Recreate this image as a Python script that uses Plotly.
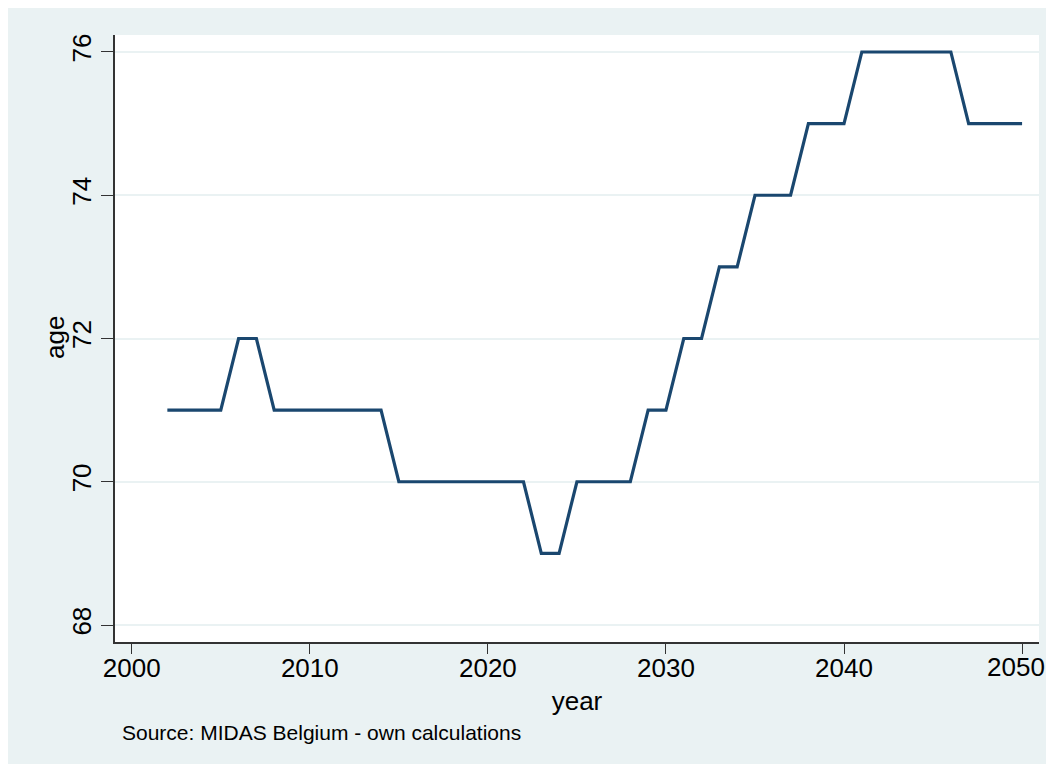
import plotly.graph_objects as go

years = list(range(2002, 2051))
age = [71, 71, 71, 71, 72, 72, 71, 71, 71, 71, 71, 71, 71,
       70, 70, 70, 70, 70, 70, 70, 70, 69, 69,
       70, 70, 70, 70, 71, 71, 72, 72, 73, 73, 74, 74, 74,
       75, 75, 75, 76, 76, 76, 76, 76, 76, 75, 75, 75, 75]
x_ticks = [2000, 2010, 2020, 2030, 2040, 2050]
y_ticks = [68, 70, 72, 74, 76]

OFF = 8  # page body margin
SW, SH = 1054, 772  # screen size
W, H = SW - 2 * OFF, SH - 2 * OFF
L = 115 - OFF
R = W - (1039 - OFF)
T = 35 - OFF
B = H - (642 - OFF)
pw, ph = W - L - R, H - T - B
BG = "#EAF2F3"
FONT = "Liberation Sans, Arial, sans-serif"

fig = go.Figure()
fig.add_trace(go.Scatter(x=years, y=age, mode="lines",
                         line=dict(color="#1A476F", width=3.2), showlegend=False))

def px2paper_x(px):
    return (px - OFF - L) / pw

def px2paper_y(py):
    return (H - B - (py - OFF)) / ph

fig.add_shape(type="rect", xref="paper", yref="paper", layer="below",
              x0=px2paper_x(10), x1=px2paper_x(SW + 20),
              y0=px2paper_y(SH + 20), y1=px2paper_y(8),
              fillcolor=BG, line=dict(width=0))
fig.add_shape(type="rect", xref="paper", yref="paper", layer="below",
              x0=0, x1=1, y0=0, y1=1, fillcolor="white", line=dict(width=0))

# last x label sits at the page edge; draw it as an annotation kept inside the page
x_labels = [str(v) for v in x_ticks[:-1]] + [""]

fig.update_layout(
    width=W, height=H,
    margin=dict(l=L, r=R, t=T, b=B),
    paper_bgcolor=BG, plot_bgcolor="white",
    font=dict(family=FONT, color="black", size=26),
    xaxis=dict(range=[1999.06, 2050.95], tickvals=x_ticks, ticktext=x_labels,
               showgrid=False,
               zeroline=False, showline=True, linecolor="#333333", linewidth=1.5,
               ticks="outside", ticklen=10, tickwidth=1.2, tickcolor="#333333",
               tickfont=dict(size=26), ticklabelstandoff=-8,
               title=dict(text="year", font=dict(size=26), standoff=10)),
    yaxis=dict(range=[67.763, 76.237], tickvals=y_ticks, showgrid=True,
               gridcolor=BG, gridwidth=2, zeroline=False,
               showline=True, linecolor="#333333", linewidth=1.5,
               ticks="outside", ticklen=12, tickwidth=1.2, tickcolor="#333333",
               tickangle=-90, tickfont=dict(size=26)),
)
fig.add_annotation(text=str(x_ticks[-1]),
                   xref="paper", yref="paper", x=1 + R / pw, y=px2paper_y(667),
                   xanchor="right", yanchor="middle", showarrow=False, borderpad=0,
                   font=dict(size=26, family=FONT, color="black"))
fig.add_annotation(text="age", textangle=-90,
                   xref="paper", yref="paper", x=px2paper_x(55), y=px2paper_y(338),
                   xanchor="center", yanchor="middle", showarrow=False,
                   font=dict(size=26, family=FONT, color="black"))
fig.add_annotation(text="Source: MIDAS Belgium - own calculations",
                   xref="paper", yref="paper", x=px2paper_x(120), y=px2paper_y(733),
                   xanchor="left", yanchor="middle", showarrow=False,
                   font=dict(size=21, family=FONT, color="black"))

fig.write_html("out.html")
